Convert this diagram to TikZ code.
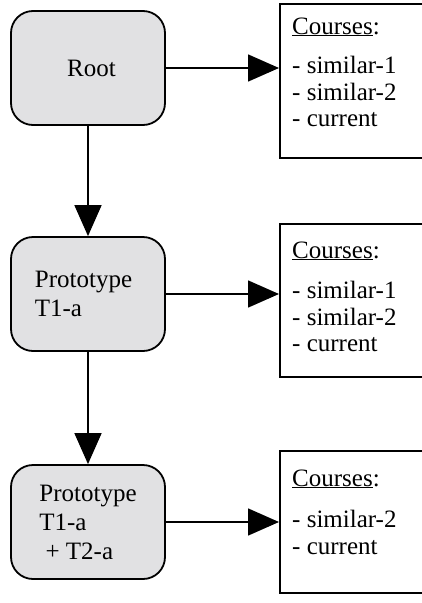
\documentclass[tikz,border=0pt]{standalone}
\usepackage{fontspec}
\setmainfont{Liberation Serif}
\usetikzlibrary{arrows.meta}
\definecolor{boxgray}{RGB}{225,225,227}
\begin{document}
\begin{tikzpicture}[x=1pt,y=-1pt,
  proto/.style={draw=black, line width=1.8pt, fill=boxgray, rounded corners=22pt,
    minimum width=154pt, minimum height=114pt, inner sep=0pt, align=left,
    font=\fontsize{25}{29}\selectfont},
  courses/.style={draw=black, line width=1.8pt, minimum width=146pt, anchor=north west, inner sep=0pt},
  conn/.style={line width=1.6pt, -{Triangle[length=31pt,width=27pt]}},
  txt/.style={font=\fontsize{25}{27}\selectfont, inner sep=0pt, anchor=base west}
]
\useasboundingbox (0,0) rectangle (421,603);

% left column
\node[proto] (root) at (88,68) {\hspace*{7pt}Root};
\node[proto] (p1) at (88,294) {Prototype\hspace*{9pt}\\T1-a};
\node[proto] (p2) at (88,522) {Prototype\\T1-a\\\ + T2-a};

% right column boxes
\node[courses, minimum height=154pt] (c1) at (279,3) {};
\node[courses, minimum height=153pt] (c2) at (279,223) {};
\node[courses, minimum height=142pt] (c3) at (279,450) {};

% texts of box 1
\node[txt] (c1h) at (292,34) {\underline{Courses}:};
\node[txt] (c1a) at (292,73.5) {- similar-1};
\node[txt] (c1b) at (292,100) {- similar-2};
\node[txt] (c1c) at (292,126.7) {- current};

% texts of box 2
\node[txt] (c2h) at (292,258) {\underline{Courses}:};
\node[txt] (c2a) at (292,298.5) {- similar-1};
\node[txt] (c2b) at (292,325) {- similar-2};
\node[txt] (c2c) at (292,351.7) {- current};

% texts of box 3
\node[txt] (c3h) at (292,486) {\underline{Courses}:};
\node[txt] (c3a) at (292,527.5) {- similar-2};
\node[txt] (c3b) at (292,554) {- current};

% connectors
\draw[conn] (root.east) -- (root.east -| c1.west);
\draw[conn] (p1.east) -- (p1.east -| c2.west);
\draw[conn] (p2.east) -- (p2.east -| c3.west);
\draw[conn] (root.south) -- (p1.north);
\draw[conn] (p1.south) -- (p2.north);
\end{tikzpicture}
\end{document}
